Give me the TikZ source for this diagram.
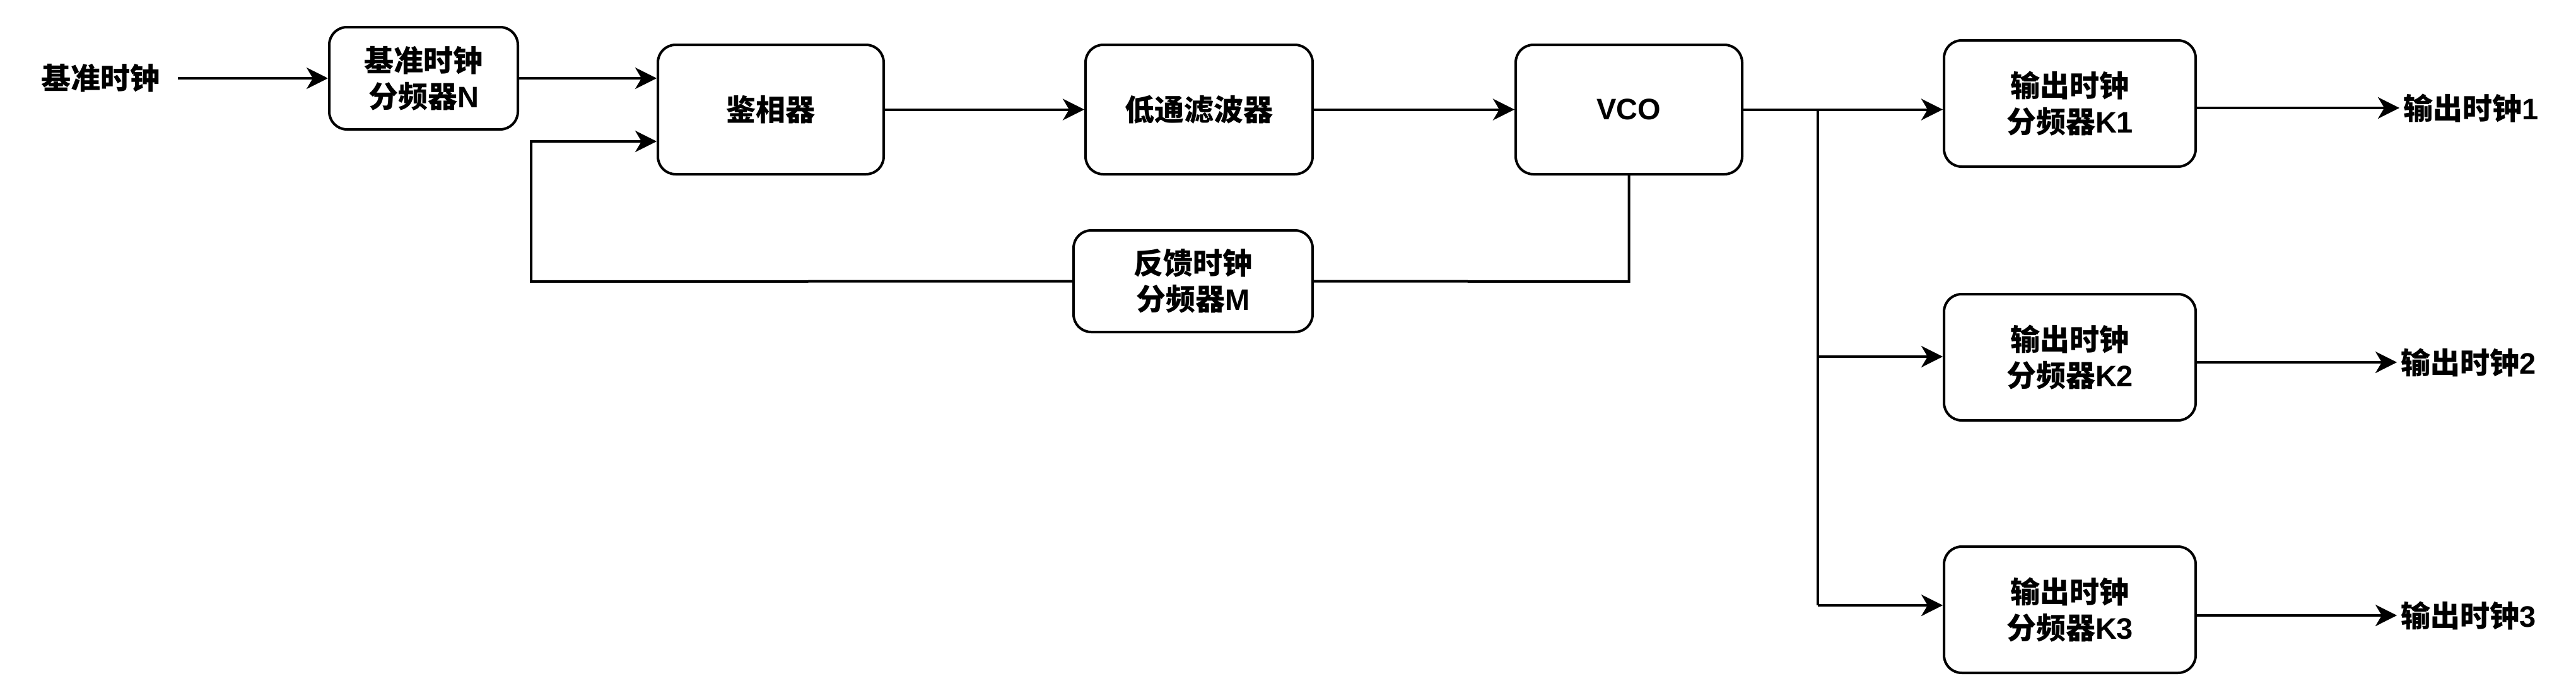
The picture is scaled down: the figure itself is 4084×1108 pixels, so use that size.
\documentclass[tikz,border=0pt]{standalone}
\usepackage{fontspec}
\setmainfont{Liberation Sans}
\newfontfamily\cjk{Noto Sans CJK SC}
\usetikzlibrary{arrows.meta}
\newcommand\zh[1]{{\cjk #1}}
\newcommand\lbl{\fontsize{23.5}{28.5}\selectfont\bfseries}
\begin{document}
\begin{tikzpicture}[x=0.5pt,y=-0.5pt,
  box/.style={draw, line width=2pt, rounded corners=14pt, inner sep=0pt, align=center, font=\lbl},
  txt/.style={inner sep=0pt, font=\lbl},
  ln/.style={line width=2pt},
  arr/.style={ln, -{Stealth[length=17pt,width=17pt,inset=5pt]}}]
\useasboundingbox (0,0) rectangle (4084,1108);
\node[txt, anchor=east] (ref) at (254,124) {\zh{基准时钟}};
\node[box, minimum width=149.5pt, minimum height=81pt] (N) at (671.5,124) {\zh{基准时钟}\\\zh{分频器}N};
\node[box, minimum width=179pt, minimum height=102.5pt] (PD) at (1222,173.5) {\zh{鉴相器}};
\node[box, minimum width=180pt, minimum height=102.5pt] (LPF) at (1901,173.5) {\zh{低通滤波器}};
\node[box, minimum width=179.5pt, minimum height=102.5pt] (VCO) at (2582.5,173.5) {VCO};
\node[box, minimum width=189.5pt, minimum height=80.5pt] (M) at (1891.5,445.5) {\zh{反馈时钟}\\\zh{分频器}M};
\node[box, minimum width=199.5pt, minimum height=100pt] (K1) at (3281.5,164) {\zh{输出时钟}\\\zh{分频器}K1};
\node[box, minimum width=199.5pt, minimum height=100pt] (K2) at (3281.5,566) {\zh{输出时钟}\\\zh{分频器}K2};
\node[box, minimum width=199.5pt, minimum height=100pt] (K3) at (3281.5,966) {\zh{输出时钟}\\\zh{分频器}K3};
\node[txt, anchor=west] (o1) at (3810,171) {\zh{输出时钟}1};
\node[txt, anchor=west] (o2) at (3806,574) {\zh{输出时钟}2};
\node[txt, anchor=west] (o3) at (3806,975) {\zh{输出时钟}3};
\coordinate (fbR) at (2582.5,446);
\coordinate (fbL) at (842,446);
\coordinate (fbT) at (842,224);
\coordinate (br) at (2882,173.5);
\coordinate (b2) at (2882,565);
\coordinate (b3) at (2882,959);
\draw[arr] ([xshift=14pt]ref.east) -- (N.west);
\draw[arr] (N.east) -- (N.east -| PD.west);
\draw[arr] (PD.east) -- (LPF.west);
\draw[arr] (LPF.east) -- (VCO.west);
\draw[ln] (VCO.south) -- (fbR) -- (M.east);
\draw[arr] (M.west) -- (fbL) -- (fbT) -- (fbT -| PD.west);
\draw[arr] (VCO.east) -- (VCO.east -| K1.west);
\draw[ln] (br) -- (b3);
\draw[arr] (b2) -- (b2 -| K2.west);
\draw[arr] (b3) -- (b3 -| K3.west);
\draw[arr] (K1.east |- o1.west) -- ([xshift=-3pt]o1.west);
\draw[arr] (K2.east |- o2.west) -- ([xshift=-3pt]o2.west);
\draw[arr] (K3.east |- o3.west) -- ([xshift=-3pt]o3.west);
\end{tikzpicture}
\end{document}
